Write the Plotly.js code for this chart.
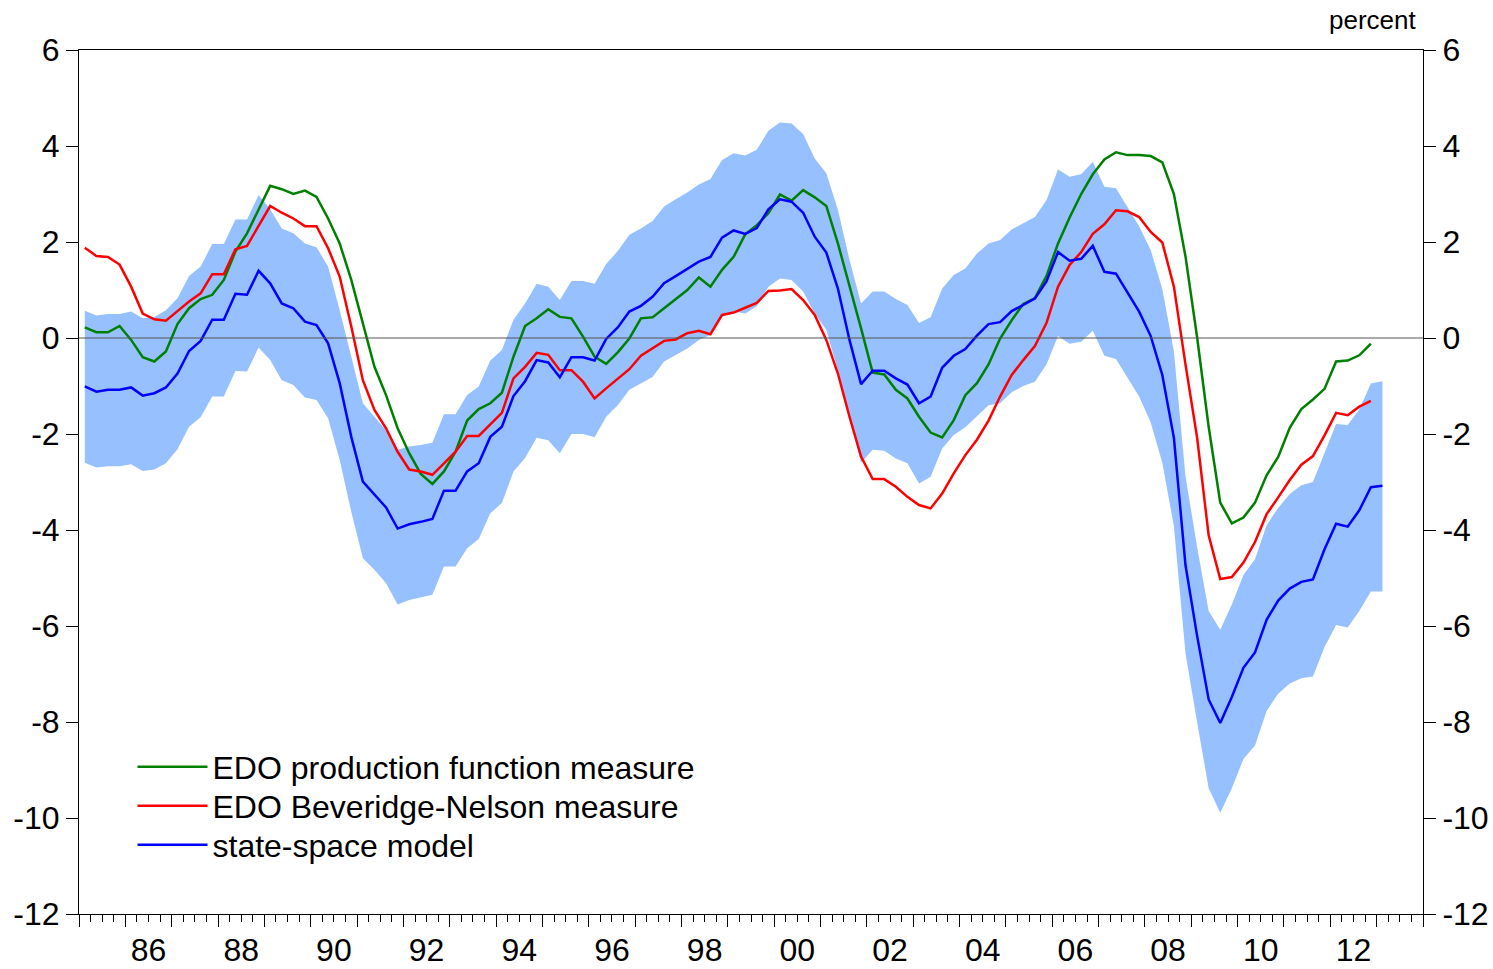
<!DOCTYPE html>
<html>
<head>
<meta charset="utf-8">
<script src="https://cdn.plot.ly/plotly-3.0.1.min.js"></script>
<style>html,body{margin:0;padding:0;background:#fff;}#chart{width:1493px;height:969px;}</style>
</head>
<body>
<div id="chart"></div>
<script>
// Quarterly observations starting 1985Q1
const startYear = 1985;

const edoProductionFunction = [
  0.22, 0.12, 0.12, 0.25, -0.04, -0.40, -0.49, -0.28, 0.29, 0.62, 0.81, 0.90, 1.21, 1.80, 2.18, 2.67, 3.17, 3.10, 3.00, 3.07,
  2.94, 2.49, 1.97, 1.21, 0.31, -0.60, -1.19, -1.88, -2.40, -2.83, -3.04, -2.78, -2.37, -1.72, -1.48, -1.36, -1.14, -0.39, 0.25,
  0.41, 0.60, 0.44, 0.41, 0.03, -0.39, -0.54, -0.30, -0.01, 0.41, 0.43, 0.62, 0.81, 1.00, 1.26, 1.07, 1.42, 1.69, 2.16, 2.35,
  2.60, 2.99, 2.86, 3.08, 2.93, 2.75, 1.97, 1.10, 0.20, -0.72, -0.76, -1.08, -1.26, -1.64, -1.97, -2.07, -1.71, -1.19, -0.94,
  -0.55, -0.01, 0.37, 0.71, 0.83, 1.29, 1.97, 2.51, 3.00, 3.41, 3.72, 3.87, 3.81, 3.81, 3.79, 3.66, 3.00, 1.70, 0.02,
  -1.85, -3.43, -3.86, -3.74, -3.43, -2.86, -2.48, -1.87, -1.48, -1.28, -1.06, -0.49, -0.47, -0.36, -0.12
];

const edoBeveridgeNelson = [
  1.88, 1.71, 1.69, 1.53, 1.07, 0.51, 0.39, 0.36, 0.56, 0.76, 0.93, 1.33, 1.33, 1.85, 1.92, 2.35, 2.75, 2.61, 2.49, 2.33,
  2.33, 1.87, 1.28, 0.24, -0.88, -1.50, -1.88, -2.37, -2.74, -2.78, -2.85, -2.61, -2.37, -2.04, -2.04, -1.80, -1.56, -0.84, -0.60,
  -0.31, -0.35, -0.67, -0.67, -0.91, -1.26, -1.05, -0.85, -0.65, -0.37, -0.22, -0.06, -0.03, 0.10, 0.15, 0.08, 0.48, 0.53, 0.63, 0.73,
  0.98, 0.99, 1.02, 0.79, 0.48, -0.04, -0.74, -1.64, -2.47, -2.94, -2.94, -3.10, -3.31, -3.48, -3.55, -3.24, -2.82, -2.44, -2.12,
  -1.72, -1.22, -0.77, -0.46, -0.17, 0.31, 1.07, 1.52, 1.79, 2.17, 2.37, 2.66, 2.64, 2.52, 2.21, 1.99, 1.07, -0.55, -2.07,
  -4.11, -5.02, -4.98, -4.68, -4.25, -3.67, -3.32, -2.96, -2.64, -2.46, -2.03, -1.56, -1.61, -1.43, -1.31
];

const stateSpace = [
  -1.01, -1.12, -1.08, -1.08, -1.03, -1.20, -1.15, -1.03, -0.74, -0.27, -0.06, 0.38, 0.38, 0.92, 0.90, 1.40, 1.14, 0.72, 0.62, 0.34,
  0.27, -0.11, -0.94, -2.06, -2.99, -3.27, -3.53, -3.97, -3.88, -3.83, -3.77, -3.18, -3.18, -2.78, -2.61, -2.06, -1.85, -1.21, -0.90,
  -0.46, -0.51, -0.82, -0.40, -0.40, -0.47, -0.02, 0.22, 0.55, 0.67, 0.86, 1.14, 1.29, 1.44, 1.59, 1.69, 2.09, 2.24, 2.17, 2.29,
  2.68, 2.89, 2.84, 2.61, 2.11, 1.78, 1.03, -0.04, -0.96, -0.68, -0.68, -0.84, -0.97, -1.36, -1.22, -0.62, -0.37, -0.23, 0.05,
  0.29, 0.33, 0.56, 0.69, 0.82, 1.18, 1.79, 1.61, 1.65, 1.92, 1.38, 1.34, 0.93, 0.55, 0.04, -0.77, -2.08, -4.73, -6.20,
  -7.53, -8.02, -7.48, -6.87, -6.55, -5.87, -5.47, -5.22, -5.08, -5.03, -4.40, -3.87, -3.93, -3.59, -3.11, -3.08
];

const bandUpper = [
  0.57, 0.47, 0.50, 0.50, 0.55, 0.41, 0.44, 0.58, 0.83, 1.29, 1.49, 1.96, 1.96, 2.47, 2.47, 2.98, 2.68, 2.28, 2.18, 1.97,
  1.89, 1.49, 0.58, -0.39, -1.36, -1.64, -1.92, -2.33, -2.26, -2.23, -2.18, -1.59, -1.59, -1.19, -1.01, -0.47, -0.25, 0.38, 0.72,
  1.13, 1.07, 0.79, 1.19, 1.19, 1.13, 1.54, 1.81, 2.15, 2.28, 2.44, 2.74, 2.89, 3.03, 3.20, 3.31, 3.71, 3.85, 3.80, 3.92,
  4.32, 4.49, 4.47, 4.25, 3.74, 3.43, 2.67, 1.63, 0.72, 0.97, 0.97, 0.81, 0.69, 0.31, 0.43, 1.03, 1.31, 1.45, 1.76,
  1.97, 2.04, 2.26, 2.39, 2.52, 2.87, 3.51, 3.36, 3.41, 3.67, 3.15, 3.12, 2.73, 2.33, 1.83, 1.02, -0.28, -2.88, -4.35,
  -5.69, -6.08, -5.55, -4.94, -4.61, -3.90, -3.54, -3.25, -3.07, -3.00, -2.39, -1.79, -1.81, -1.49, -0.95, -0.90
];

const bandLower = [
  -2.60, -2.70, -2.67, -2.67, -2.63, -2.77, -2.74, -2.61, -2.32, -1.85, -1.65, -1.22, -1.22, -0.69, -0.70, -0.20, -0.46, -0.88, -0.98, -1.24,
  -1.29, -1.67, -2.54, -3.62, -4.59, -4.83, -5.11, -5.55, -5.46, -5.41, -5.35, -4.76, -4.76, -4.38, -4.19, -3.65, -3.44, -2.78, -2.50,
  -2.08, -2.13, -2.40, -2.00, -2.00, -2.07, -1.64, -1.40, -1.08, -0.94, -0.81, -0.49, -0.35, -0.22, -0.04, 0.06, 0.44, 0.55, 0.51, 0.66,
  1.07, 1.24, 1.21, 0.97, 0.51, 0.17, -0.67, -1.64, -2.60, -2.33, -2.35, -2.51, -2.61, -3.03, -2.89, -2.30, -2.02, -1.86, -1.62,
  -1.40, -1.36, -1.13, -1.00, -0.91, -0.55, 0.04, -0.12, -0.08, 0.15, -0.37, -0.44, -0.82, -1.22, -1.76, -2.60, -3.92, -6.57, -8.00,
  -9.38, -9.89, -9.38, -8.77, -8.49, -7.77, -7.41, -7.20, -7.09, -7.05, -6.44, -5.98, -6.03, -5.69, -5.28, -5.28
];

const seriesNames = ["EDO production function measure", "EDO Beveridge-Nelson measure", "state-space model"];
const xTickLabels = ["86","88","90","92","94","96","98","00","02","04","06","08","10","12"];
const xLabelYears = [1986,1988,1990,1992,1994,1996,1998,2000,2002,2004,2006,2008,2010,2012];
const yTickValues = [6,4,2,0,-2,-4,-6,-8,-10,-12];
const yTickLabels = ["6","4","2","0","-2","-4","-6","-8","-10","-12"];

// position of each quarterly observation: middle of the quarter
const qx = n => Array.from({length: n}, (_, i) => startYear + (i + 0.5) / 4);
const xRange = [startYear, 2014];
const yRange = [-12, 6];
const yearTicks = [];
for (let y = xRange[0]; y <= xRange[1]; y++) yearTicks.push(y);

const fontFam = "Arial, 'Liberation Sans', sans-serif";
const bandColor = "rgb(150,192,255)";

const traces = [
  {x: qx(bandLower.length), y: bandLower, type: "scatter", mode: "lines",
   line: {width: 0, color: bandColor}, showlegend: false, hoverinfo: "skip"},
  {x: qx(bandUpper.length), y: bandUpper, type: "scatter", mode: "lines",
   line: {width: 0, color: bandColor}, fill: "tonexty", fillcolor: bandColor,
   showlegend: false, hoverinfo: "skip"},
  {x: qx(edoProductionFunction.length), y: edoProductionFunction, type: "scatter", mode: "lines",
   xaxis: "x2", yaxis: "y2", legend: "legend",
   name: seriesNames[0], line: {color: "rgb(0,128,0)", width: 2.5}},
  {x: qx(edoBeveridgeNelson.length), y: edoBeveridgeNelson, type: "scatter", mode: "lines",
   xaxis: "x2", yaxis: "y2", legend: "legend2",
   name: seriesNames[1], line: {color: "rgb(255,0,0)", width: 2.5}},
  {x: qx(stateSpace.length), y: stateSpace, type: "scatter", mode: "lines",
   xaxis: "x2", yaxis: "y2", legend: "legend3",
   name: seriesNames[2], line: {color: "rgb(0,0,255)", width: 2.5}}
];

const tickFont = {family: fontFam, size: 32, color: "#000"};
const legFont = {family: fontFam, size: 32, color: "#000"};
// legend row centres (paper coordinates)
const legendBase = {x: 0.0398, xanchor: "left", yanchor: "middle", font: legFont,
  bgcolor: "rgba(0,0,0,0)", borderwidth: 0, itemwidth: 70};

const layout = {
  width: 1493, height: 969, autosize: false,
  margin: {l: 79, r: 70, t: 50, b: 55},
  paper_bgcolor: "#fff", plot_bgcolor: "#fff",
  showlegend: true,
  legend: Object.assign({y: 0.1701}, legendBase),
  legend2: Object.assign({y: 0.1250}, legendBase),
  legend3: Object.assign({y: 0.0798}, legendBase),
  xaxis: {range: xRange, showgrid: false, zeroline: false,
          showline: true, mirror: true, linecolor: "#000", linewidth: 1,
          ticks: "outside", ticklen: 12, tickcolor: "#000", tickwidth: 1,
          tickmode: "array", tickvals: yearTicks, ticktext: yearTicks.map(() => ""),
          minor: {tickmode: "linear", tick0: startYear, dtick: 0.25, ticks: "outside", ticklen: 7,
                  tickcolor: "#000", tickwidth: 1, showgrid: false},
          fixedrange: true},
  xaxis2: {range: xRange, overlaying: "x", anchor: "y", side: "bottom",
           showgrid: false, zeroline: false, showline: false, ticks: "",
           tickmode: "array", tickvals: xLabelYears.map(y => y + 0.5), ticktext: xTickLabels,
           tickfont: tickFont, ticklabelstandoff: 14},
  yaxis: {range: yRange, showgrid: false, zeroline: false,
          showline: true, mirror: true, linecolor: "#000", linewidth: 1,
          ticks: "outside", ticklen: 12, tickcolor: "#000", tickwidth: 1,
          tickmode: "array", tickvals: yTickValues, ticktext: yTickLabels,
          tickfont: tickFont, fixedrange: true},
  yaxis2: {range: yRange, overlaying: "y", anchor: "x", side: "right",
           showgrid: false, zeroline: false, showline: false,
           ticks: "outside", ticklen: 12, tickcolor: "#000", tickwidth: 1,
           tickmode: "array", tickvals: yTickValues, ticktext: yTickLabels,
           tickfont: tickFont},
  shapes: [
    {type: "line", xref: "paper", x0: 0, x1: 1, yref: "y", y0: 0, y1: 0,
     line: {color: "#555", width: 1}, layer: "above"}
  ],
  annotations: [
    {text: "percent", xref: "paper", yref: "paper", x: 0.996, y: 1.035,
     xanchor: "right", yanchor: "middle", showarrow: false,
     font: {family: fontFam, size: 26, color: "#000"}}
  ]
};

Plotly.newPlot("chart", traces, layout, {staticPlot: true, displayModeBar: false});
</script>
</body>
</html>
